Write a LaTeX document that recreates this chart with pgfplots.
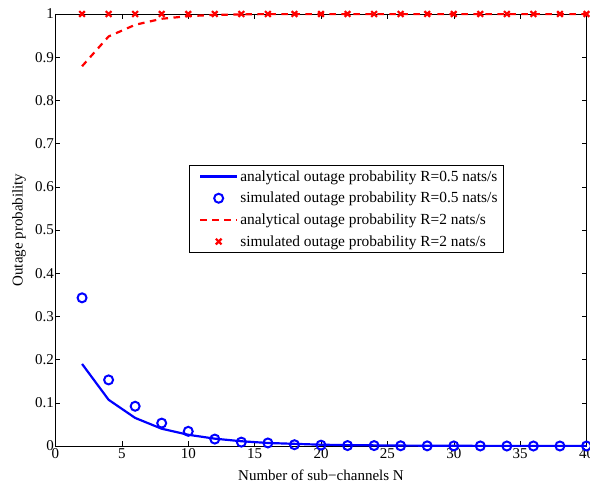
\documentclass[border=0pt]{standalone}
\usepackage{fontspec}
\setmainfont{Liberation Serif}
\usepackage{pgfplots}
\pgfplotsset{compat=1.18}
\begin{document}
\begin{tikzpicture}
\begin{axis}[
  name=ax,
  scale only axis,
  width=531bp, height=432bp,
  xmin=0, xmax=40, ymin=0, ymax=1,
  xtick={0,5,...,40},
  ytick={0,0.1,...,1},
  yticklabels={0,0.1,0.2,0.3,0.4,0.5,0.6,0.7,0.8,0.9,1},
  tick align=inside,
  tick pos=both,
  major tick length=5bp,
  /pgf/number format/assume math mode=true,
  tick label style={font=\fontsize{15bp}{17bp}\selectfont},
  yticklabel style={xshift=2bp},
  xticklabel style={yshift=1bp},
  label style={font=\fontsize{15bp}{17bp}\selectfont},
  xlabel={Number of sub−channels N},
  ylabel={Outage probability},
  xlabel style={at={(axis description cs:0.5,-0.0787)}, anchor=base},
  ylabel style={at={(axis description cs:-0.0687,0.5)}, anchor=center},
  legend style={at={(0.251,0.650)}, anchor=north west, font=\fontsize{15.4bp}{17bp}\selectfont, draw=black, line width=0.6pt, inner xsep=4bp, inner ysep=3bp, row sep=5.5bp},
  legend cell align=left,
  legend image code/.code={\path (0bp,0bp); \draw[mark repeat=2,mark phase=2,#1] plot coordinates {(6bp,0bp) (24.5bp,0bp) (43bp,0bp)};},
  axis line style={line width=0.6pt},
  every tick/.style={black, line width=0.5pt},
]
\addplot[blue, line width=2.2pt] coordinates {
(2,0.19) (4,0.107) (6,0.065) (8,0.040) (10,0.026) (12,0.017) (14,0.011) (16,0.007) (18,0.005) (20,0.003) (22,0.002) (24,0.0015) (26,0.001) (28,0.0007) (30,0.0005) (32,0.0003) (34,0.0002) (36,0.0001) (38,0.0001) (40,0.0001)};
\addlegendentry{analytical outage probability R=0.5 nats/s}
\addplot[blue, only marks, mark=o, mark size=4.5bp, line width=2pt] coordinates {
(2,0.343) (4,0.153) (6,0.092) (8,0.053) (10,0.034) (12,0.016) (14,0.009) (16,0.007) (18,0.003) (20,0.002) (22,0.001) (24,0.001) (26,0.0005) (28,0.0003) (30,0.0002) (32,0.0001) (34,0) (36,0) (38,0) (40,0)};
\addlegendentry{simulated outage probability R=0.5 nats/s}
\addplot[red, line width=2.2pt, dash pattern=on 6.5bp off 5.5bp] coordinates {
(2,0.879) (4,0.948) (6,0.975) (8,0.989) (10,0.995) (12,0.998) (14,0.999) (16,1) (18,1) (20,1) (22,1) (24,1) (26,1) (28,1) (30,1) (32,1) (34,1) (36,1) (38,1) (40,1)};
\addlegendentry{analytical outage probability R=2 nats/s}
\addplot[red, only marks, mark=x, mark size=4bp, line width=2.2pt] coordinates {
(2,1) (4,1) (6,1) (8,1) (10,1) (12,1) (14,1) (16,1) (18,1) (20,1) (22,1) (24,1) (26,1) (28,1) (30,1) (32,1) (34,1) (36,1) (38,1) (40,1)};
\addlegendentry{simulated outage probability R=2 nats/s}
\end{axis}
\pgfresetboundingbox
\path (ax.south west) ++(-55.5bp,-36bp) rectangle ++(590bp,482bp);
\end{tikzpicture}
\end{document}
